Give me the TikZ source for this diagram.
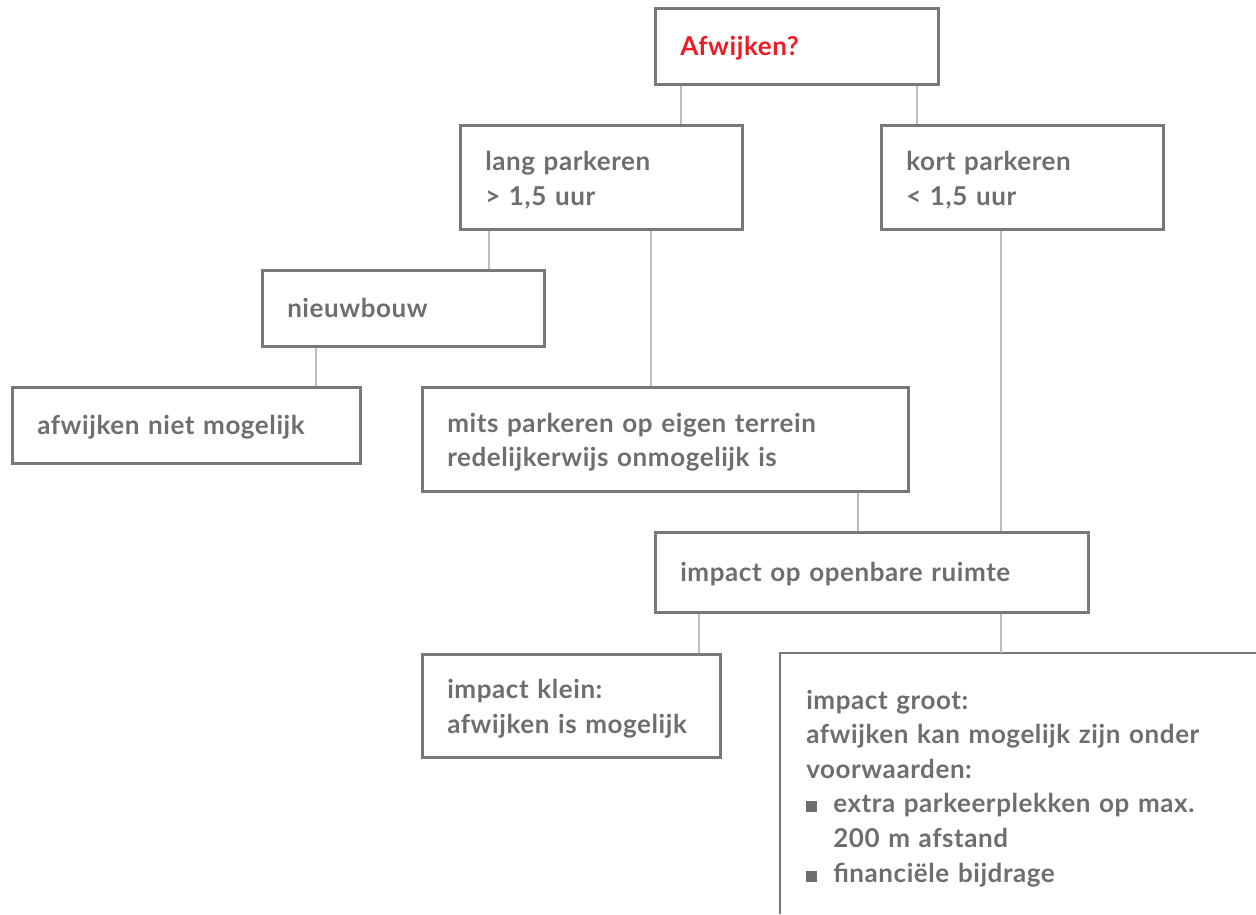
\documentclass[tikz,border=0pt]{standalone}
\usepackage{fontspec}
\setmainfont{Lato}[LetterSpace=2.2]
\definecolor{boxc}{HTML}{77787B}
\definecolor{linec}{HTML}{BCBDC0}
\definecolor{txtc}{HTML}{6D6E71}
\definecolor{afwred}{HTML}{ED1C24}
\newcommand{\bul}{\makebox[27pt][l]{\textcolor{txtc}{\rule[0.5pt]{11pt}{11pt}}}}
\tikzset{
  box/.style={draw=boxc, line width=2.5pt, anchor=north west, inner xsep=25pt, inner ysep=0pt,
    align=left, font=\fontsize{26}{34.6}\selectfont\bfseries, text=txtc,
    execute at end node={\par\vspace*{-6pt}}},
  conn/.style={draw=linec, line width=2pt}
}
\begin{document}
\begin{tikzpicture}[x=1pt,y=-1pt]
\useasboundingbox (0,0) rectangle (1256,914);
\node[box, minimum width=283, minimum height=76, text width=233, text=afwred] (afw) at (654,7) {Afwijken?};
\node[box, minimum width=282, minimum height=104, text width=232] (lang) at (459,124) {lang parkeren\\> 1,5 uur};
\node[box, minimum width=282, minimum height=104, text width=232] (kort) at (880,124) {kort parkeren\\< 1,5 uur};
\node[box, minimum width=282, minimum height=76, text width=232] (nieuw) at (261,269) {nieuwbouw};
\node[box, minimum width=348, minimum height=76, text width=298] (niet) at (11,386) {afwijken niet mogelijk};
\node[box, minimum width=486, minimum height=104, text width=436] (mits) at (421,386) {mits parkeren op eigen terrein\\redelijkerwijs onmogelijk is};
\node[box, minimum width=433, minimum height=80, text width=383] (impact) at (654,531) {impact op openbare ruimte};
\node[box, minimum width=298, minimum height=103, text width=248] (klein) at (421,653) {impact klein:\\afwijken is mogelijk};
\node[box, draw=none, minimum width=475, minimum height=262, text width=425] (groot) at (780,653) {impact groot:\\afwijken kan mogelijk zijn onder\\voorwaarden:\\\bul extra parkeerplekken op max.\\\hspace*{27pt}200 m afstand\\\bul financiële bijdrage};
\coordinate (gsw) at (groot.west |- 0,914);
\coordinate (gse) at (groot.east |- 0,914);
\draw[draw=boxc, line width=2.5pt] (gsw) -- (groot.north west) -- (groot.north east) -- (gse);
\draw[conn] ([xshift=27]afw.south west) coordinate (c1) -- (c1 |- lang.north);
\draw[conn] ([xshift=263]afw.south west) coordinate (c2) -- (c2 |- kort.north);
\draw[conn] ([xshift=30]lang.south west) coordinate (c3) -- (c3 |- nieuw.north);
\draw[conn] ([xshift=192]lang.south west) coordinate (c4) -- (c4 |- mits.north);
\draw[conn] ([xshift=55]nieuw.south west) coordinate (c5) -- (c5 |- niet.north);
\draw[conn] ([xshift=437]mits.south west) coordinate (c6) -- (c6 |- impact.north);
\draw[conn] ([xshift=121]kort.south west) coordinate (c7) -- (c7 |- impact.north);
\draw[conn] ([xshift=45]impact.south west) coordinate (c8) -- (c8 |- klein.north);
\draw[conn] ([xshift=347]impact.south west) coordinate (c9) -- (c9 |- groot.north);
\end{tikzpicture}
\end{document}
